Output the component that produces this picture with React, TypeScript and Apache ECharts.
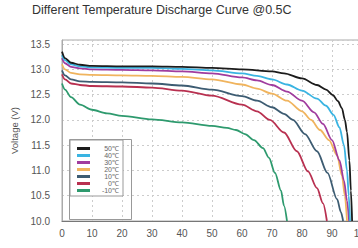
import React, { useEffect, useRef } from "react";
import * as echarts from "echarts";

const titleText = "Different Temperature Discharge Curve @0.5C";
const seriesNames = ["50℃", "40℃", "30℃", "20℃", "10℃", "0℃", "-10℃"];
const seriesColors = ["#1c1c1c", "#3ab4e2", "#a03c9e", "#f0b45e", "#3d5c72", "#b83050", "#2e9a6e"];

const curve50 = [[0,13.35],[1,13.22],[3,13.13],[6,13.09],[10,13.07],[20,13.06],[30,13.06],[40,13.05],[50,13.03],[60,13.0],[70,12.96],[74,12.92],[80,12.82],[85,12.69],[88,12.6],[90.3,12.49],[92,12.37],[93.3,12.23],[94.3,12.0],[95,11.76],[95.8,11.2],[96.3,10.6],[96.7,10.0]];
const curve40 = [[0,13.28],[1,13.18],[3,13.1],[6,13.06],[10,13.04],[20,13.03],[30,13.03],[40,13.01],[50,12.98],[60,12.92],[65,12.87],[70,12.8],[75,12.7],[80,12.58],[85,12.42],[88,12.28],[90.5,12.1],[92.5,11.85],[94,11.5],[95,11.0],[95.6,10.5],[96,10.0]];
const curve30 = [[0,13.22],[1,13.12],[3,13.05],[6,13.02],[10,13.0],[20,12.99],[30,12.98],[40,12.96],[50,12.92],[60,12.84],[65,12.78],[70,12.69],[75,12.56],[80,12.38],[84,12.15],[87,11.92],[90,11.6],[92.5,11.2],[94,10.8],[95,10.4],[95.7,10.0]];
const curve20 = [[0,13.1],[1,13.0],[3,12.93],[6,12.9],[10,12.89],[20,12.88],[30,12.87],[40,12.85],[50,12.8],[60,12.7],[65,12.62],[70,12.52],[75,12.38],[80,12.17],[83,12.0],[86,11.8],[89,11.6],[91.7,11.3],[93.3,10.9],[94.3,10.5],[95,10.0]];
const curve10 = [[0,12.98],[1,12.88],[3,12.8],[6,12.76],[10,12.75],[20,12.74],[30,12.72],[40,12.68],[50,12.6],[60,12.47],[65,12.38],[70,12.25],[74,12.12],[77,12.0],[81,11.72],[85,11.38],[88.5,10.95],[91.7,10.43],[93,10.17],[93.7,10.0]];
const curve0 = [[0,12.9],[1,12.8],[3,12.72],[6,12.69],[10,12.67],[20,12.66],[30,12.64],[40,12.58],[50,12.48],[60,12.3],[65,12.17],[69.3,12.0],[74,11.75],[78.3,11.38],[82,10.98],[85,10.65],[87,10.35],[88.3,10.0]];
const curveM10 = [[0,12.72],[1,12.6],[3,12.45],[6,12.3],[10,12.2],[15,12.13],[20,12.08],[30,12.01],[40,11.95],[50,11.88],[55,11.84],[58,11.8],[61,11.72],[64,11.6],[67,11.44],[69,11.25],[71,10.95],[73,10.6],[74,10.3],[75,10.0]];

const curves = [curve50, curve40, curve30, curve20, curve10, curve0, curveM10];

const yTicks = [10.0, 10.5, 11.0, 11.5, 12.0, 12.5, 13.0, 13.5];
const xMin = 0;
const xMax = 100;
const xInterval = 10;

export default function App() {
  const ref = useRef<HTMLDivElement>(null);
  useEffect(() => {
    if (!ref.current) return;
    const chart = echarts.init(ref.current, null, { renderer: "svg" });
    const font = "Liberation Sans, Arial, sans-serif";
    chart.setOption({
      animation: false,
      backgroundColor: "#ffffff",
      title: {
        text: titleText,
        left: 27,
        top: -2,
        textStyle: { fontSize: 12.5, fontWeight: "normal", color: "#333", fontFamily: font },
      },
      grid: {
        left: 62,
        right: -4,
        top: 40,
        bottom: 27,
        outerBoundsMode: "none",
        containLabel: false,
        show: true,
        borderColor: "#aaa",
        borderWidth: 1,
      },
      legend: {
        orient: "vertical",
        left: 70,
        top: 140,
        icon: "rect",
        itemWidth: 13,
        itemHeight: 3,
        itemGap: 0,
        padding: [5, 4, 2, 7],
        borderColor: "#999",
        borderWidth: 1,
        backgroundColor: "#fff",
        data: seriesNames,
        formatter: (n: string) => `{a|${n}}`,
        textStyle: {
          fontFamily: font,
          color: "#666",
          fontSize: 7,
          rich: { a: { width: 24, align: "right", fontSize: 7, lineHeight: 9.5, color: "#666" } },
        },
      },
      graphic: [
        {
          type: "rect",
          left: 67,
          top: 137,
          shape: { width: 62, height: 80 },
          style: { fill: "none", stroke: "#999", lineWidth: 1 },
          z: 1,
        },
      ],
      xAxis: {
        type: "value",
        min: xMin,
        max: xMax,
        interval: xInterval,
        axisLine: { show: true, lineStyle: { color: "#777", width: 1.2 } },
        axisTick: { show: false },
        axisLabel: { color: "#555", fontSize: 10, fontFamily: font, margin: 7, showMaxLabel: true },
        splitLine: { show: true, lineStyle: { color: "#ccc", type: [2, 3], width: 1 } },
      },
      yAxis: {
        type: "value",
        min: 10,
        max: 13.58,
        interval: 0.5,
        name: "Voltage (V)",
        nameLocation: "middle",
        nameGap: 43,
        nameTextStyle: { color: "#555", fontSize: 9.5, fontFamily: font },
        axisLine: { show: true, lineStyle: { color: "#aaa" } },
        axisTick: { show: false },
        axisLabel: {
          color: "#555",
          fontSize: 10,
          fontFamily: font,
          margin: 12,
          formatter: (v: number) => (yTicks.some((t) => Math.abs(t - v) < 1e-6) ? v.toFixed(1) : ""),
        },
        splitLine: { show: true, lineStyle: { color: "#ccc", type: [2, 3], width: 1 } },
      },
      series: curves.map((c, i) => ({
        name: seriesNames[i],
        type: "line",
        data: c,
        smooth: 0.3,
        smoothMonotone: "x",
        showSymbol: false,
        symbol: "none",
        lineStyle: { width: 1.8, color: seriesColors[i] },
        itemStyle: { color: seriesColors[i] },
        z: 2 + (curves.length - i),
      })),
    });
    return () => chart.dispose();
  }, []);
  return <div ref={ref} style={{ width: 358, height: 248, position: "absolute", left: 0, top: 0 }} />;
}
